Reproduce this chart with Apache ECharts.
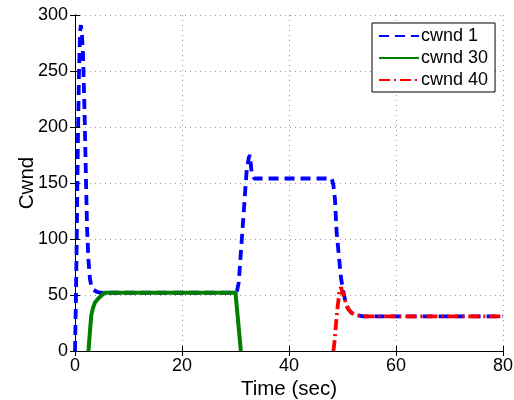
<!DOCTYPE html>
<html>
<head>
<meta charset="utf-8">
<script src="https://cdn.jsdelivr.net/npm/echarts@6/dist/echarts.min.js"></script>
<style>
html,body{margin:0;padding:0;background:#fff;}
#chart{width:514px;height:400px;}
</style>
</head>
<body>
<div id="chart"></div>
<script>
// ---- data ----
var seriesNames = ['cwnd 1', 'cwnd 30', 'cwnd 40'];

var cwnd1Time   = [0, 0.15, 0.35, 0.55, 0.75, 0.95, 1.1, 1.3, 1.5, 1.8, 2.0, 2.25, 2.5, 2.8, 3.1, 3.4, 4.0, 4.7, 10, 20, 30.0, 30.3, 30.6, 31.2, 31.8, 32.1, 32.5, 32.7, 33.0, 33.5, 40, 48.0, 48.3, 48.6, 48.9, 49.4, 49.7, 50.0, 50.5, 51.0, 51.7, 52.5, 54, 60, 70, 80];
var cwnd1Values = [0, 40, 110, 190, 250, 285, 291, 282, 265, 210, 165, 110, 82, 64, 57, 55, 53, 52, 52, 52, 52, 54, 61, 101, 142, 162, 173, 175, 160, 154, 154, 154, 148, 135, 106, 81, 66, 57, 45, 38, 34, 32, 31, 31, 31, 31];

var cwnd30Time   = [2.5, 2.55, 2.8, 3.05, 3.4, 3.7, 4.2, 4.6, 5.5, 10, 20, 30.0, 31.0];
var cwnd30Values = [0, 2, 18, 32, 39, 43, 46, 48, 52, 52, 52, 52, 0];

var cwnd40Time   = [48.3, 48.5, 48.8, 49.1, 49.4, 49.7, 50.0, 50.5, 51.0, 51.7, 52.5, 54, 60, 70, 80];
var cwnd40Values = [0, 8, 25, 40, 52, 57, 56, 45, 38, 34, 32, 31, 31, 31, 31];

var xTicks = [0, 20, 40, 60, 80];
var yTicks = [0, 50, 100, 150, 200, 250, 300];

function pairs(t, v) { return t.map(function (x, i) { return [x, v[i]]; }); }

var font = 'Liberation Sans, Arial, Helvetica, sans-serif';
var gridLine = { show: true, lineStyle: { color: '#9a9a9a', type: [1, 4], width: 1 } };

var chart = echarts.init(document.getElementById('chart'), null, { renderer: 'canvas' });
chart.setOption({
  animation: false,
  backgroundColor: '#fff',
  grid: { left: 75, right: 11, top: 15, bottom: 49, containLabel: false, outerBoundsMode: 'none' },
  legend: {
    orient: 'vertical',
    left: 372, top: 23,
    data: seriesNames,
    itemWidth: 40, itemHeight: 14, itemGap: 4,
    padding: [4, 7, 3, 6],
    backgroundColor: '#fff', borderColor: '#000', borderWidth: 1,
    itemStyle: { opacity: 0 },
    textStyle: { fontFamily: font, fontSize: 18, color: '#000', padding: [0, 0, 0, -3] }
  },
  xAxis: [{
    type: 'value', min: 0, max: 80, interval: 20,
    name: 'Time (sec)', nameLocation: 'middle', nameGap: 28, nameMoveOverlap: false,
    nameTextStyle: { fontFamily: font, fontSize: 20.5, color: '#000' },
    axisLine: { show: true, lineStyle: { color: '#000', width: 1 } },
    axisTick: { show: true, inside: true, length: 5, lineStyle: { color: '#000' } },
    axisLabel: { fontFamily: font, fontSize: 18, color: '#000', margin: 6 },
    splitLine: gridLine
  }, {
    type: 'value', min: 0, max: 80, interval: 20, position: 'top',
    axisLine: { show: true, lineStyle: { color: '#000', width: 1 } },
    axisTick: { show: true, inside: true, length: 5, lineStyle: { color: '#000' } },
    axisLabel: { show: false }, splitLine: { show: false }
  }],
  yAxis: [{
    type: 'value', min: 0, max: 300, interval: 50,
    name: 'Cwnd', nameLocation: 'middle', nameGap: 37, nameMoveOverlap: false,
    nameTextStyle: { fontFamily: font, fontSize: 20.5, color: '#000' },
    axisLine: { show: true, lineStyle: { color: '#000', width: 1 } },
    axisTick: { show: true, inside: true, length: 5, lineStyle: { color: '#000' } },
    axisLabel: { fontFamily: font, fontSize: 18, color: '#000', margin: 7 },
    splitLine: gridLine
  }, {
    type: 'value', min: 0, max: 300, interval: 50, position: 'right',
    axisLine: { show: true, lineStyle: { color: '#000', width: 1 } },
    axisTick: { show: true, inside: true, length: 5, lineStyle: { color: '#000' } },
    axisLabel: { show: false }, splitLine: { show: false }
  }],
  series: [{
    name: seriesNames[0], type: 'line', symbol: 'none', smooth: false,
    data: pairs(cwnd1Time, cwnd1Values),
    lineStyle: { color: '#0000ff', width: 3.8, type: [10, 6] },
    itemStyle: { color: '#0000ff' }
  }, {
    name: seriesNames[1], type: 'line', symbol: 'none', smooth: false,
    data: pairs(cwnd30Time, cwnd30Values),
    lineStyle: { color: '#008000', width: 4, type: 'solid' },
    itemStyle: { color: '#008000' }
  }, {
    name: seriesNames[2], type: 'line', symbol: 'none', smooth: false,
    data: pairs(cwnd40Time, cwnd40Values),
    lineStyle: { color: '#ff0000', width: 3.8, type: [11, 4, 2, 4] },
    itemStyle: { color: '#ff0000' }
  }]
});
</script>
</body>
</html>
